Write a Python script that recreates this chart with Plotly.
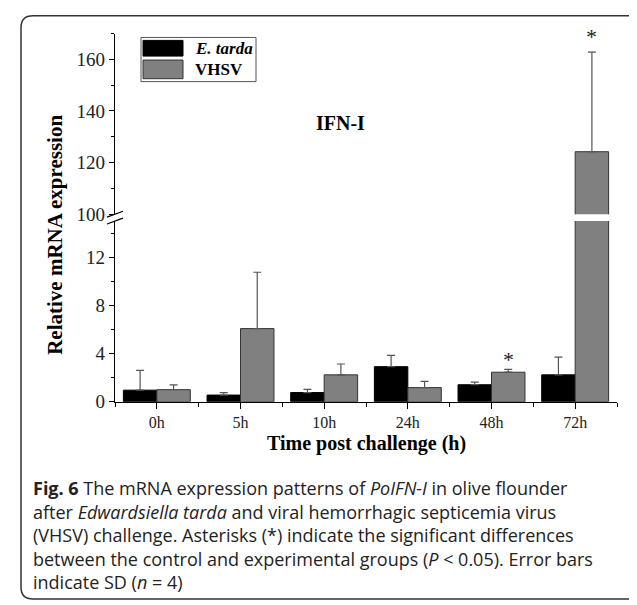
import plotly.graph_objects as go

# ---- data ----
categories = ["0h", "5h", "10h", "24h", "48h", "72h"]
etarda = [0.96, 0.55, 0.76, 2.91, 1.41, 2.23]
etarda_sd = [1.64, 0.21, 0.27, 0.93, 0.22, 1.47]
vhsv = [1.0, 6.07, 2.23, 1.17, 2.45, 124.2]
vhsv_sd = [0.39, 4.68, 0.90, 0.52, 0.24, 38.6]
lower_ticks = [0, 4, 8, 12]
upper_ticks = [100, 120, 140, 160]

W, H = 637, 605
def fx(x): return x / W
def fy(y): return 1 - y / H

SERIF = "Liberation Serif, Times New Roman, serif"
SANS = "Open Sans, Noto Sans, sans-serif"
GRAY = "#808080"
idx = list(range(len(categories)))

fig = go.Figure()
for xa, ya in [("x", "y"), ("x2", "y2")]:
    fig.add_trace(go.Bar(
        x=idx, y=etarda, name="E. tarda", xaxis=xa, yaxis=ya,
        marker=dict(color="black", line=dict(color="black", width=1)),
        error_y=dict(type="data", array=etarda_sd, arrayminus=[0]*6, symmetric=False,
                     color="#555555", thickness=1.2, width=4),
        showlegend=False))
    fig.add_trace(go.Bar(
        x=idx, y=vhsv, name="VHSV", xaxis=xa, yaxis=ya,
        marker=dict(color=GRAY, line=dict(color="#333333", width=1)),
        error_y=dict(type="data", array=vhsv_sd, arrayminus=[0]*6, symmetric=False,
                     color="#555555", thickness=1.2, width=4),
        showlegend=False))

xdom = [fx(107), fx(609)]
common_y = dict(showline=True, linecolor="black", linewidth=1.3, ticks="outside",
                ticklen=5, tickwidth=1.3, tickcolor="black", showgrid=False, zeroline=False,
                tickfont=dict(family=SERIF, size=19, color="#222"))

fig.update_layout(
    width=W, height=H, margin=dict(l=0, r=0, t=0, b=0),
    paper_bgcolor="white", plot_bgcolor="white",
    barmode="group", bargap=0.2, bargroupgap=0,
    xaxis=dict(domain=xdom, range=[-0.5, 5.5], anchor="y",
               tickvals=idx, ticktext=categories, ticks="outside", ticklen=6,
               tickwidth=1.3, tickcolor="black", showline=True, linecolor="black",
               linewidth=1.3, showgrid=False, zeroline=False,
               tickfont=dict(family=SERIF, size=16, color="#222"),
               minor=dict(tickvals=[i - 0.5 for i in range(7)], ticks="outside",
                          ticklen=4, tickwidth=1.3, tickcolor="black")),
    xaxis2=dict(domain=xdom, range=[-0.5, 5.5], anchor="y2", matches="x",
                visible=False),
    yaxis=dict(domain=[fy(401), fy(217)], range=[0, 15], anchor="x",
               tickvals=lower_ticks,
               minor=dict(tickvals=[2, 6, 10, 14], ticks="outside", ticklen=3,
                          tickwidth=1.3, tickcolor="black"),
               **common_y),
    yaxis2=dict(domain=[fy(210), fy(26)], range=[100, 170], anchor="x2",
                tickvals=upper_ticks,
                minor=dict(tickvals=[110, 130, 150, 170], ticks="outside", ticklen=3,
                           tickwidth=1.3, tickcolor="black"),
                **common_y),
)

# outer rounded frame
x0, x1, y0, y1 = fx(13), fx(634), fy(602), fy(8)
rx, ry = 12 / W, 12 / H
path = (f"M {x0+rx},{y1} L {x1-rx},{y1} Q {x1},{y1} {x1},{y1-ry} "
        f"L {x1},{y0+ry} Q {x1},{y0} {x1-rx},{y0} L {x0+rx},{y0} "
        f"Q {x0},{y0} {x0},{y0+ry} L {x0},{y1-ry} Q {x0},{y1} {x0+rx},{y1} Z")
shapes = [dict(type="path", xref="paper", yref="paper", path=path,
               line=dict(color="#333333", width=1.5))]
# axis break marks
for yc in (210, 217):
    shapes.append(dict(type="line", xref="paper", yref="paper",
                       x0=fx(99), y0=fy(yc + 3), x1=fx(115), y1=fy(yc - 3),
                       line=dict(color="black", width=1.3)))
# legend
shapes.append(dict(type="rect", xref="paper", yref="paper",
                   x0=fx(133), x1=fx(248), y0=fy(75), y1=fy(30),
                   line=dict(color="#555555", width=1)))
shapes.append(dict(type="rect", xref="paper", yref="paper",
                   x0=fx(135), x1=fx(175), y0=fy(49), y1=fy(33),
                   fillcolor="black", line=dict(color="black", width=1)))
shapes.append(dict(type="rect", xref="paper", yref="paper",
                   x0=fx(135), x1=fx(175), y0=fy(72), y1=fy(53),
                   fillcolor=GRAY, line=dict(color="#333333", width=1)))
fig.update_layout(shapes=shapes)

ann = []
ann.append(dict(xref="paper", yref="paper", x=fx(185), y=fy(41), text="<b><i>E. tarda</i></b>",
                showarrow=False, xanchor="left", yanchor="middle",
                font=dict(family=SERIF, size=17, color="black")))
ann.append(dict(xref="paper", yref="paper", x=fx(185), y=fy(63), text="<b>VHSV</b>",
                showarrow=False, xanchor="left", yanchor="middle",
                font=dict(family=SERIF, size=17, color="black")))
ann.append(dict(xref="paper", yref="paper", x=fx(332), y=fy(117), text="<b>IFN-I</b>",
                showarrow=False, xanchor="center", yanchor="middle",
                font=dict(family=SERIF, size=20, color="black")))
# axis titles
ann.append(dict(xref="paper", yref="paper", x=fx(47), y=fy(231),
                text="<b>Relative mRNA expression</b>", textangle=-90,
                showarrow=False, xanchor="center", yanchor="middle",
                font=dict(family=SERIF, size=21, color="black")))
ann.append(dict(xref="paper", yref="paper", x=fx(358), y=fy(444),
                text="<b>Time post challenge (h)</b>",
                showarrow=False, xanchor="center", yanchor="middle",
                font=dict(family=SERIF, size=20, color="black")))
# significance asterisks
ann.append(dict(xref="x", yref="y", x=4.2, y=2.3, text="*", showarrow=False,
                yanchor="bottom", font=dict(family=SERIF, size=22, color="#222")))
ann.append(dict(xref="x2", yref="y2", x=5.2, y=163.2, text="*", showarrow=False,
                yanchor="bottom", font=dict(family=SERIF, size=22, color="#222")))
# caption
caption = [
    "<b>Fig. 6</b> The mRNA expression patterns of <i>PoIFN-I</i> in olive flounder",
    "after <i>Edwardsiella tarda</i> and viral hemorrhagic septicemia virus",
    "(VHSV) challenge. Asterisks (*) indicate the significant differences",
    "between the control and experimental groups (<i>P</i> &lt; 0.05). Error bars",
    "indicate SD (<i>n</i> = 4)",
]
for k, line in enumerate(caption):
    ann.append(dict(xref="paper", yref="paper", x=fx(23), y=fy(489 + 24 * k), text=line,
                    showarrow=False, xanchor="left", yanchor="middle", align="left",
                    font=dict(family=SANS, size=18, color="#222")))
fig.update_layout(annotations=ann)

fig.write_html("out.html")
